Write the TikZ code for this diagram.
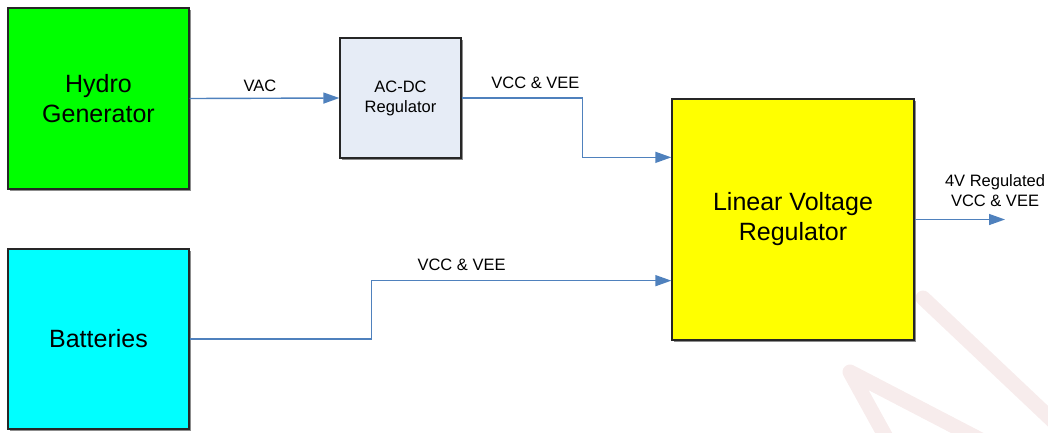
\documentclass[tikz,border=0pt]{standalone}
\usepackage{fontspec}
\setmainfont{Liberation Sans}
\usetikzlibrary{arrows.meta, positioning, shadows}
\definecolor{cgreen}{HTML}{00FF00}
\definecolor{ccyan}{HTML}{00FFFF}
\definecolor{cyellow}{HTML}{FFFF00}
\definecolor{cpale}{HTML}{E6ECF6}
\definecolor{cline}{HTML}{4F81BD}
\definecolor{cmark}{HTML}{F7ECEC}
\tikzset{
  every picture/.style={x=1pt, y=-1pt, line width=1.4pt},
  box/.style={draw=black!85, fill=#1, line width=1.3pt, align=center, inner sep=0pt,
    font=\fontsize{25}{30}\selectfont,
    drop shadow={shadow xshift=2pt, shadow yshift=-2pt, fill=black!45, opacity=1}},
  box/.default=white,
  link/.style={-{Triangle[length=16pt, width=11pt]}, draw=cline, line width=1.4pt},
  lbl/.style={font=\fontsize{16.5}{19.5}\selectfont, align=center},
  wmark/.style={draw=cmark, line width=15pt, line cap=round, line join=round},
}

\begin{document}
\begin{tikzpicture}
  \useasboundingbox (0,0) rectangle (1048,432);
  % faint watermark, bottom right
  \begin{scope}
    \clip (0,0) rectangle (1048,432);
    \draw[wmark] (893,450) -- (850,372) -- (1000,450);
    \draw[wmark] (923,298) -- (1070,437);
  \end{scope}

  % blocks
  \node[box=cgreen, minimum width=181pt, minimum height=181pt] (hydro) at (98.5,98.5) {Hydro\\Generator};
  \node[box=ccyan, minimum width=181pt, minimum height=180pt] (batt) at (98.5,339) {Batteries};
  \node[box=cpale, minimum width=121pt, minimum height=120pt, font=\fontsize{16.5}{20}\selectfont] (acdc) at (400.5,98) {AC-DC\\Regulator};
  \node[box=cyellow, minimum width=242pt, minimum height=241pt] (lvr) at (793,219.5) {Linear Voltage\\Regulator};
  \coordinate (out) at (1005,219.5);

  % connectors
  \draw[link] (hydro.east) -- node[lbl, above=3pt, pos=0.47] {VAC} (acdc.west);
  \draw[link] (acdc.east) -- node[lbl, above=5pt, pos=0.61] {VCC \& VEE} ++(121,0) |- ([yshift=-59pt]lvr.north west);
  \draw[link] (batt.east) -- ++(182,0) |- node[lbl, above=6pt, pos=0.65] {VCC \& VEE} ([yshift=60pt]lvr.south west);
  \draw[link] (lvr.east) -- (out);
  \node[lbl, anchor=south] at ([xshift=-10pt, yshift=9pt]out) {4V Regulated\\VCC \& VEE};
\end{tikzpicture}
\end{document}
